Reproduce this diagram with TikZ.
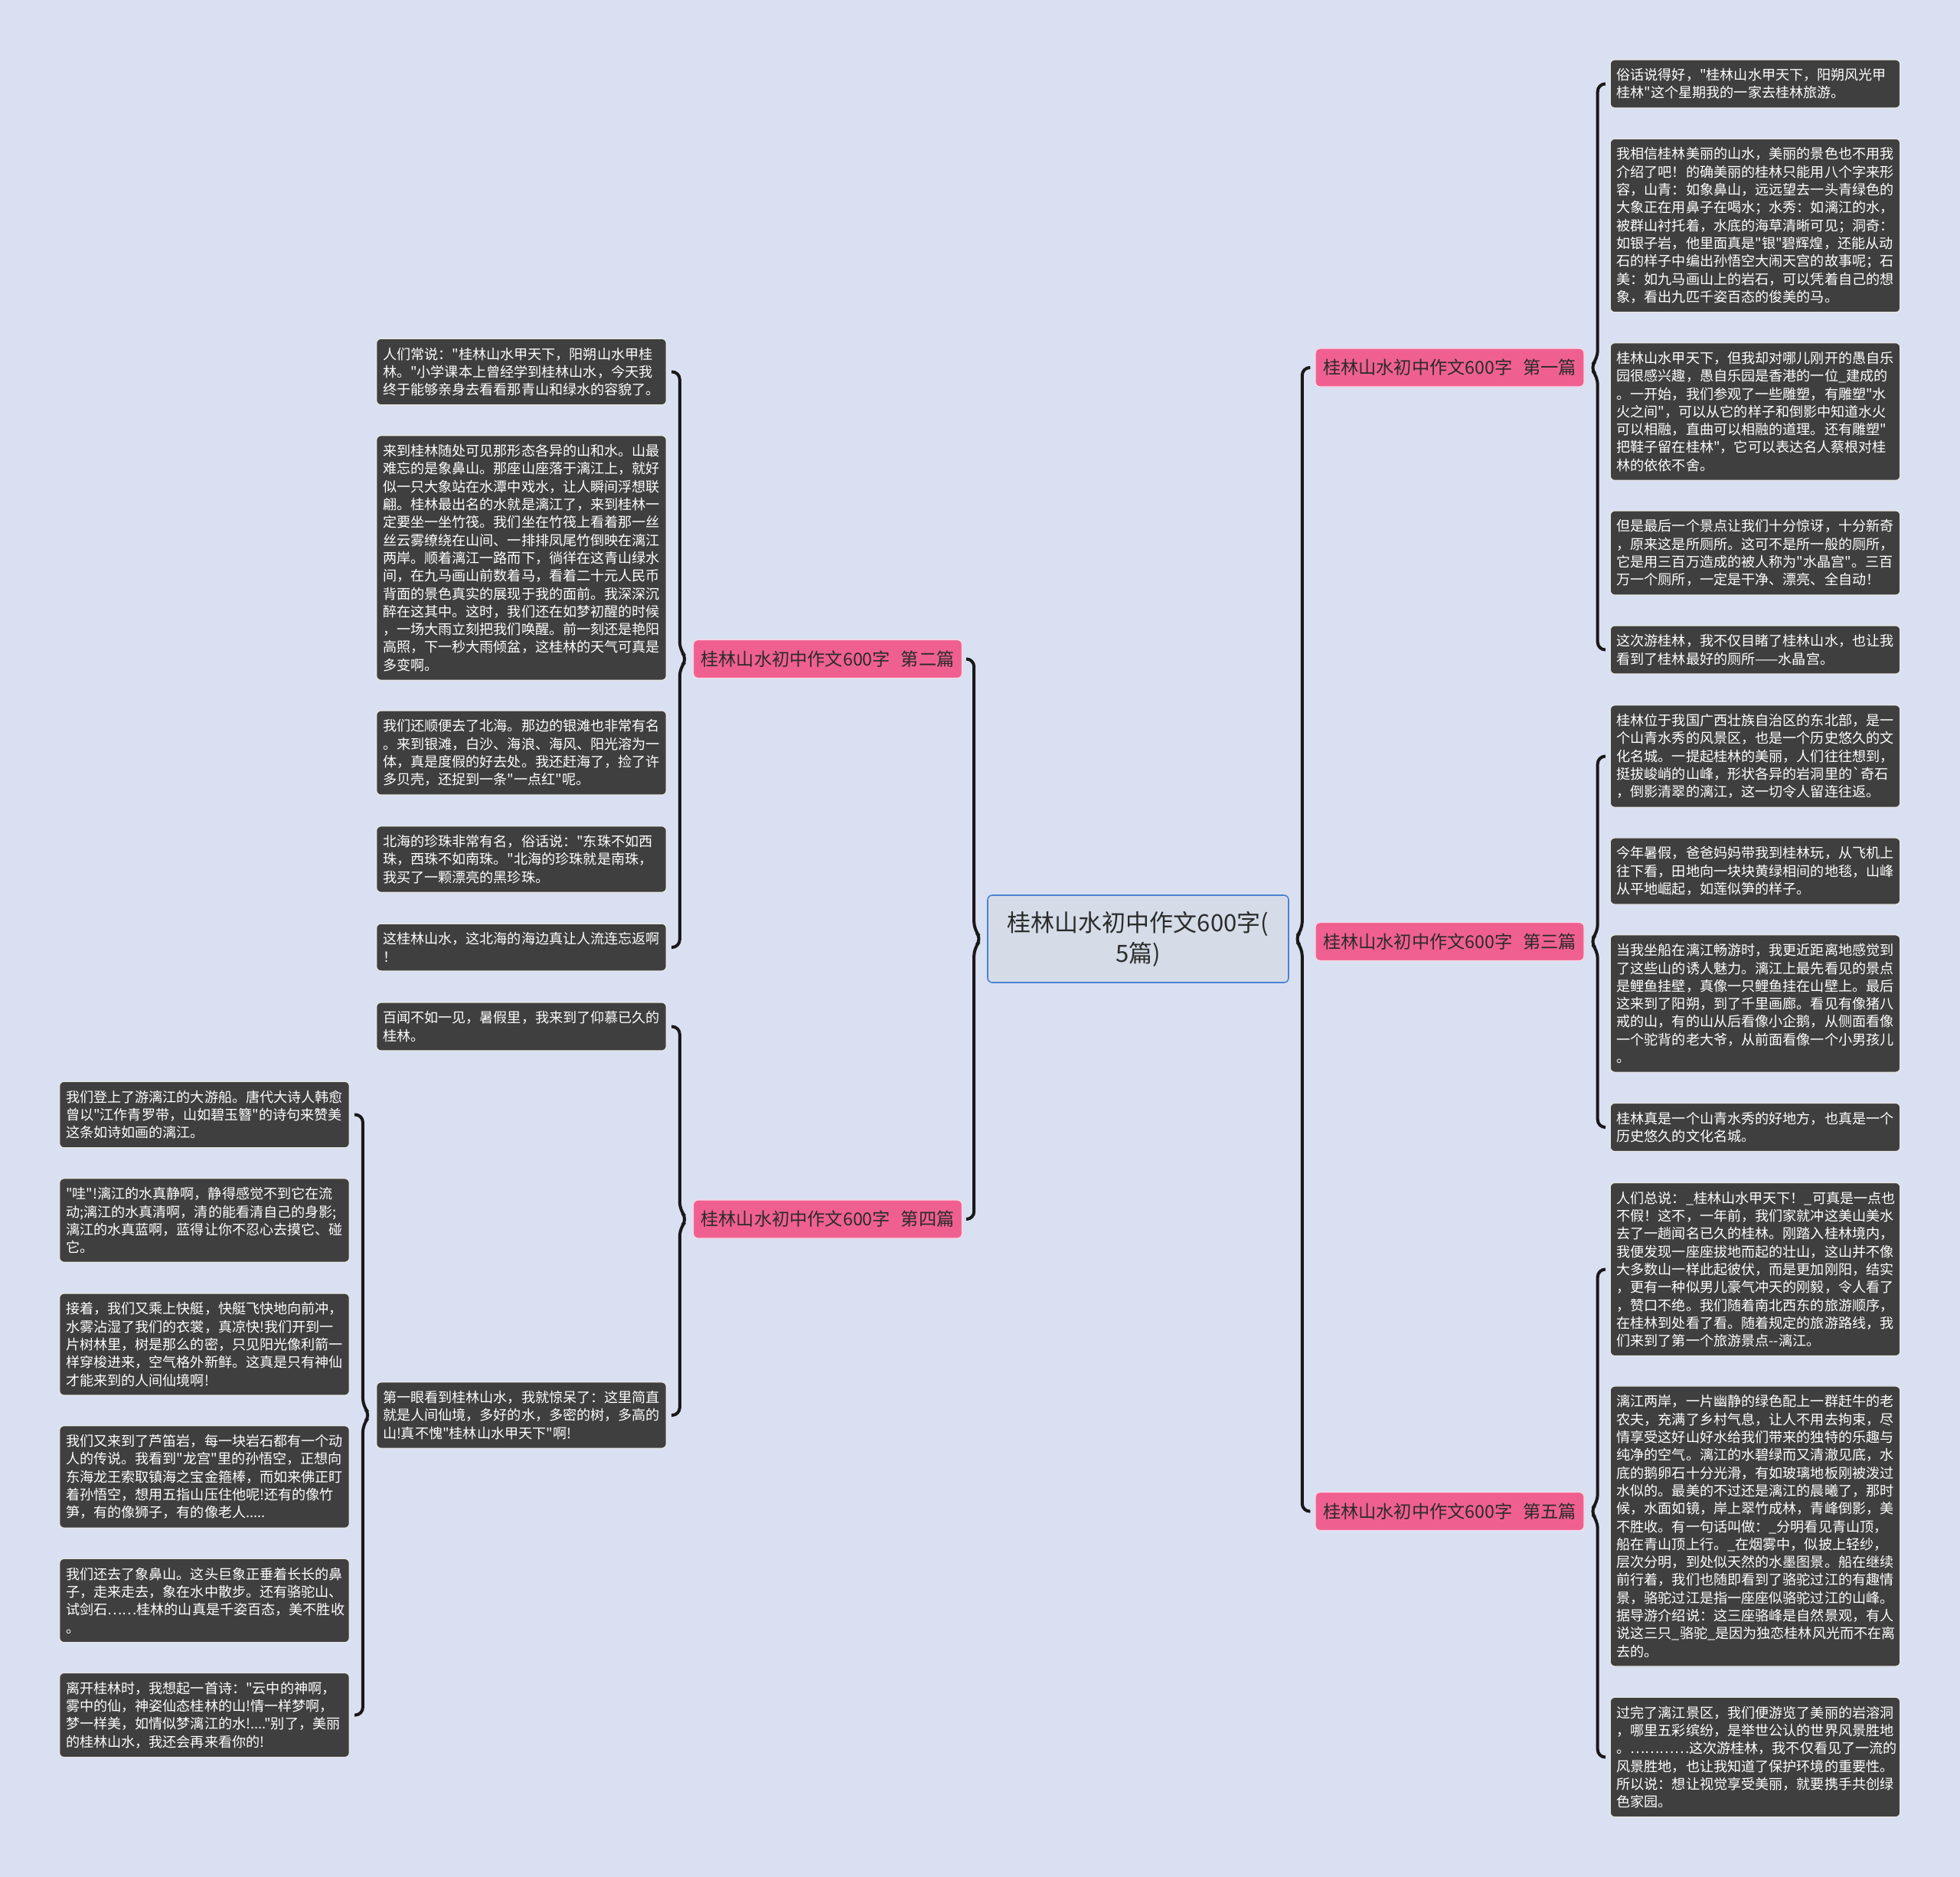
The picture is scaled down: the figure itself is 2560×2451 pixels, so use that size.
\documentclass[tikz,border=0pt]{standalone}
\usepackage{fontspec}
\usepackage{tikz}
\usetikzlibrary{calc}
\newfontfamily\cjk{Noto Sans CJK SC}
\definecolor{bgblue}{HTML}{D9E0F2}
\definecolor{boxgrey}{HTML}{3F3F3F}
\definecolor{topicpink}{HTML}{EF6090}
\definecolor{rootfill}{HTML}{D5DCE8}
\definecolor{rootline}{HTML}{4A82D0}
\definecolor{inkgrey}{HTML}{2B2B2B}

\newcommand{\linkright}[3]{%
  \draw[link] let \p1=(#1.east), \p2=(#2.west), \p3=(#3.west) in
    (\x2-3pt,\y2) -- (\x1+8.5pt,\y2) -- (\x1+8.5pt,\y1+6pt) -- (\x1+3.5pt,\y1)
    -- (\x1+8.5pt,\y1-6pt) -- (\x1+8.5pt,\y3) -- (\x3-3pt,\y3);}
\newcommand{\linkleft}[3]{%
  \draw[link] let \p1=(#1.west), \p2=(#2.east), \p3=(#3.east) in
    (\x2+3pt,\y2) -- (\x1-8.5pt,\y2) -- (\x1-8.5pt,\y1+6pt) -- (\x1-3.5pt,\y1)
    -- (\x1-8.5pt,\y1-6pt) -- (\x1-8.5pt,\y3) -- (\x3+3pt,\y3);}
\newcommand{\gap}{\hspace{0.6em}}

\begin{document}
\begin{tikzpicture}[x=0.5pt,y=-0.5pt,
  darkbox/.style={draw=white!90!black,line width=0.7pt,fill=boxgrey,rounded corners=3pt,
    text=white,font={\cjk\fontsize{9.05}{11.65}\selectfont},align=left,
    text width=181pt,inner xsep=4.2pt,inner ysep=5.8pt},
  pinkbox/.style={draw=white!75!topicpink,line width=0.7pt,fill=topicpink,rounded corners=3pt,
    text=inkgrey,font={\cjk\fontsize{11.6}{14}\selectfont},
    minimum width=175.5pt,minimum height=25pt,inner sep=2pt},
  rootbox/.style={draw=rootline,line width=0.8pt,fill=rootfill,rounded corners=3pt,
    text=inkgrey,font={\cjk\fontsize{15.5}{20}\selectfont},align=center,
    minimum width=196.5pt,minimum height=57pt},
  link/.style={draw=black!90,line width=2pt,rounded corners=5pt}]

  \fill[bgblue] (0,0) rectangle (2560,2451);

  \node[rootbox] (root) at (1486.5,1226) {桂林山水初中作文600字(\\5篇)};

  \node[pinkbox] (art1) at (1893.5,480) {桂林山水初中作文600字\gap 第一篇};
  \node[pinkbox] (art3) at (1893.5,1229.5) {桂林山水初中作文600字\gap 第三篇};
  \node[pinkbox] (art5) at (1893.5,1973.5) {桂林山水初中作文600字\gap 第五篇};
  \node[pinkbox] (art2) at (1081,860.5) {桂林山水初中作文600字\gap 第二篇};
  \node[pinkbox] (art4) at (1081,1592) {桂林山水初中作文600字\gap 第四篇};

  \node[darkbox] (art1a) at (2292.5,109.5) {俗话说得好，"桂林山水甲天下，阳朔风光甲\\桂林"这个星期我的一家去桂林旅游。};
  \node[darkbox] (art1b) at (2292.5,294.5) {我相信桂林美丽的山水，美丽的景色也不用我\\介绍了吧！的确美丽的桂林只能用八个字来形\\容，山青：如象鼻山，远远望去一头青绿色的\\大象正在用鼻子在喝水；水秀：如漓江的水，\\被群山衬托着，水底的海草清晰可见；洞奇：\\如银子岩，他里面真是"银"碧辉煌，还能从动\\石的样子中编出孙悟空大闹天宫的故事呢；石\\美：如九马画山上的岩石，可以凭着自己的想\\象，看出九匹千姿百态的俊美的马。};
  \node[darkbox] (art1c) at (2292.5,537.5) {桂林山水甲天下，但我却对哪儿刚开的愚自乐\\园很感兴趣，愚自乐园是香港的一位\_建成的\\。一开始，我们参观了一些雕塑，有雕塑"水\\火之间"，可以从它的样子和倒影中知道水火\\可以相融，直曲可以相融的道理。还有雕塑"\\把鞋子留在桂林"，它可以表达名人蔡根对桂\\林的依依不舍。};
  \node[darkbox] (art1d) at (2292.5,722) {但是最后一个景点让我们十分惊讶，十分新奇\\，原来这是所厕所。这可不是所一般的厕所，\\它是用三百万造成的被人称为"水晶宫"。三百\\万一个厕所，一定是干净、漂亮、全自动！};
  \node[darkbox] (art1e) at (2292.5,848.5) {这次游桂林，我不仅目睹了桂林山水，也让我\\看到了桂林最好的厕所——水晶宫。};

  \node[darkbox] (art3a) at (2292.5,987.5) {桂林位于我国广西壮族自治区的东北部，是一\\个山青水秀的风景区，也是一个历史悠久的文\\化名城。一提起桂林的美丽，人们往往想到，\\挺拔峻峭的山峰，形状各异的岩洞里的`奇石\\，倒影清翠的漓江，这一切令人留连往返。};
  \node[darkbox] (art3b) at (2292.5,1137.5) {今年暑假，爸爸妈妈带我到桂林玩，从飞机上\\往下看，田地向一块块黄绿相间的地毯，山峰\\从平地崛起，如莲似笋的样子。};
  \node[darkbox] (art3c) at (2292.5,1310.5) {当我坐船在漓江畅游时，我更近距离地感觉到\\了这些山的诱人魅力。漓江上最先看见的景点\\是鲤鱼挂壁，真像一只鲤鱼挂在山壁上。最后\\这来到了阳朔，到了千里画廊。看见有像猪八\\戒的山，有的山从后看像小企鹅，从侧面看像\\一个驼背的老大爷，从前面看像一个小男孩儿\\。};
  \node[darkbox] (art3d) at (2292.5,1472) {桂林真是一个山青水秀的好地方，也真是一个\\历史悠久的文化名城。};

  \node[darkbox] (art5a) at (2292.5,1657.5) {人们总说：\_桂林山水甲天下！\_可真是一点也\\不假！这不，一年前，我们家就冲这美山美水\\去了一趟闻名已久的桂林。刚踏入桂林境内，\\我便发现一座座拔地而起的壮山，这山并不像\\大多数山一样此起彼伏，而是更加刚阳，结实\\，更有一种似男儿豪气冲天的刚毅，令人看了\\，赞口不绝。我们随着南北西东的旅游顺序，\\在桂林到处看了看。随着规定的旅游路线，我\\们来到了第一个旅游景点--漓江。};
  \node[darkbox] (art5b) at (2292.5,1993) {漓江两岸，一片幽静的绿色配上一群赶牛的老\\农夫，充满了乡村气息，让人不用去拘束，尽\\情享受这好山好水给我们带来的独特的乐趣与\\纯净的空气。漓江的水碧绿而又清澈见底，水\\底的鹅卵石十分光滑，有如玻璃地板刚被泼过\\水似的。最美的不过还是漓江的晨曦了，那时\\候，水面如镜，岸上翠竹成林，青峰倒影，美\\不胜收。有一句话叫做：\_分明看见青山顶，\\船在青山顶上行。\_在烟雾中，似披上轻纱，\\层次分明，到处似天然的水墨图景。船在继续\\前行着，我们也随即看到了骆驼过江的有趣情\\景，骆驼过江是指一座座似骆驼过江的山峰。\\据导游介绍说：这三座骆峰是自然景观，有人\\说这三只\_骆驼\_是因为独恋桂林风光而不在离\\去的。};
  \node[darkbox] (art5c) at (2292.5,2294.5) {过完了漓江景区，我们便游览了美丽的岩溶洞\\，哪里五彩缤纷，是举世公认的世界风景胜地\\。…………这次游桂林，我不仅看见了一流的\\风景胜地，也让我知道了保护环境的重要性。\\所以说：想让视觉享受美丽，就要携手共创绿\\色家园。};

  \node[darkbox] (art2a) at (681,485.5) {人们常说："桂林山水甲天下，阳朔山水甲桂\\林。"小学课本上曾经学到桂林山水，今天我\\终于能够亲身去看看那青山和绿水的容貌了。};
  \node[darkbox] (art2b) at (681,728.5) {来到桂林随处可见那形态各异的山和水。山最\\难忘的是象鼻山。那座山座落于漓江上，就好\\似一只大象站在水潭中戏水，让人瞬间浮想联\\翩。桂林最出名的水就是漓江了，来到桂林一\\定要坐一坐竹筏。我们坐在竹筏上看着那一丝\\丝云雾缭绕在山间、一排排凤尾竹倒映在漓江\\两岸。顺着漓江一路而下，徜徉在这青山绿水\\间，在九马画山前数着马，看着二十元人民币\\背面的景色真实的展现于我的面前。我深深沉\\醉在这其中。这时，我们还在如梦初醒的时候\\，一场大雨立刻把我们唤醒。前一刻还是艳阳\\高照，下一秒大雨倾盆，这桂林的天气可真是\\多变啊。};
  \node[darkbox] (art2c) at (681,983) {我们还顺便去了北海。那边的银滩也非常有名\\。来到银滩，白沙、海浪、海风、阳光溶为一\\体，真是度假的好去处。我还赶海了，捡了许\\多贝壳，还捉到一条"一点红"呢。};
  \node[darkbox] (art2d) at (681,1122) {北海的珍珠非常有名，俗话说："东珠不如西\\珠，西珠不如南珠。"北海的珍珠就是南珠，\\我买了一颗漂亮的黑珍珠。};
  \node[darkbox] (art2e) at (681,1237) {这桂林山水，这北海的海边真让人流连忘返啊\\！};

  \node[darkbox] (art4a) at (681,1340.5) {百闻不如一见，暑假里，我来到了仰慕已久的\\桂林。};
  \node[darkbox] (art4b) at (681,1848) {第一眼看到桂林山水，我就惊呆了：这里简直\\就是人间仙境，多好的水，多密的树，多高的\\山!真不愧"桂林山水甲天下"啊!};

  \node[darkbox] (art4b1) at (267,1455.5) {我们登上了游漓江的大游船。唐代大诗人韩愈\\曾以"江作青罗带，山如碧玉簪"的诗句来赞美\\这条如诗如画的漓江。};
  \node[darkbox] (art4b2) at (267,1593.5) {"哇"!漓江的水真静啊，静得感觉不到它在流\\动;漓江的水真清啊，清的能看清自己的身影;\\漓江的水真蓝啊，蓝得让你不忍心去摸它、碰\\它。};
  \node[darkbox] (art4b3) at (267,1755.5) {接着，我们又乘上快艇，快艇飞快地向前冲，\\水雾沾湿了我们的衣裳，真凉快!我们开到一\\片树林里，树是那么的密，只见阳光像利箭一\\样穿梭进来，空气格外新鲜。这真是只有神仙\\才能来到的人间仙境啊!};
  \node[darkbox] (art4b4) at (267,1928.5) {我们又来到了芦笛岩，每一块岩石都有一个动\\人的传说。我看到"龙宫"里的孙悟空，正想向\\东海龙王索取镇海之宝金箍棒，而如来佛正盯\\着孙悟空，想用五指山压住他呢!还有的像竹\\笋，有的像狮子，有的像老人.....};
  \node[darkbox] (art4b5) at (267,2090) {我们还去了象鼻山。这头巨象正垂着长长的鼻\\子，走来走去，象在水中散步。还有骆驼山、\\试剑石……桂林的山真是千姿百态，美不胜收\\。};
  \node[darkbox] (art4b6) at (267,2239.5) {离开桂林时，我想起一首诗："云中的神啊，\\雾中的仙，神姿仙态桂林的山!情一样梦啊，\\梦一样美，如情似梦漓江的水!...."别了，美丽\\的桂林山水，我还会再来看你的!};

  \linkright{root}{art1}{art5}
  \linkleft{root}{art2}{art4}
  \linkright{art1}{art1a}{art1e}
  \linkright{art3}{art3a}{art3d}
  \linkright{art5}{art5a}{art5c}
  \linkleft{art2}{art2a}{art2e}
  \linkleft{art4}{art4a}{art4b}
  \linkleft{art4b}{art4b1}{art4b6}
\end{tikzpicture}
\end{document}
